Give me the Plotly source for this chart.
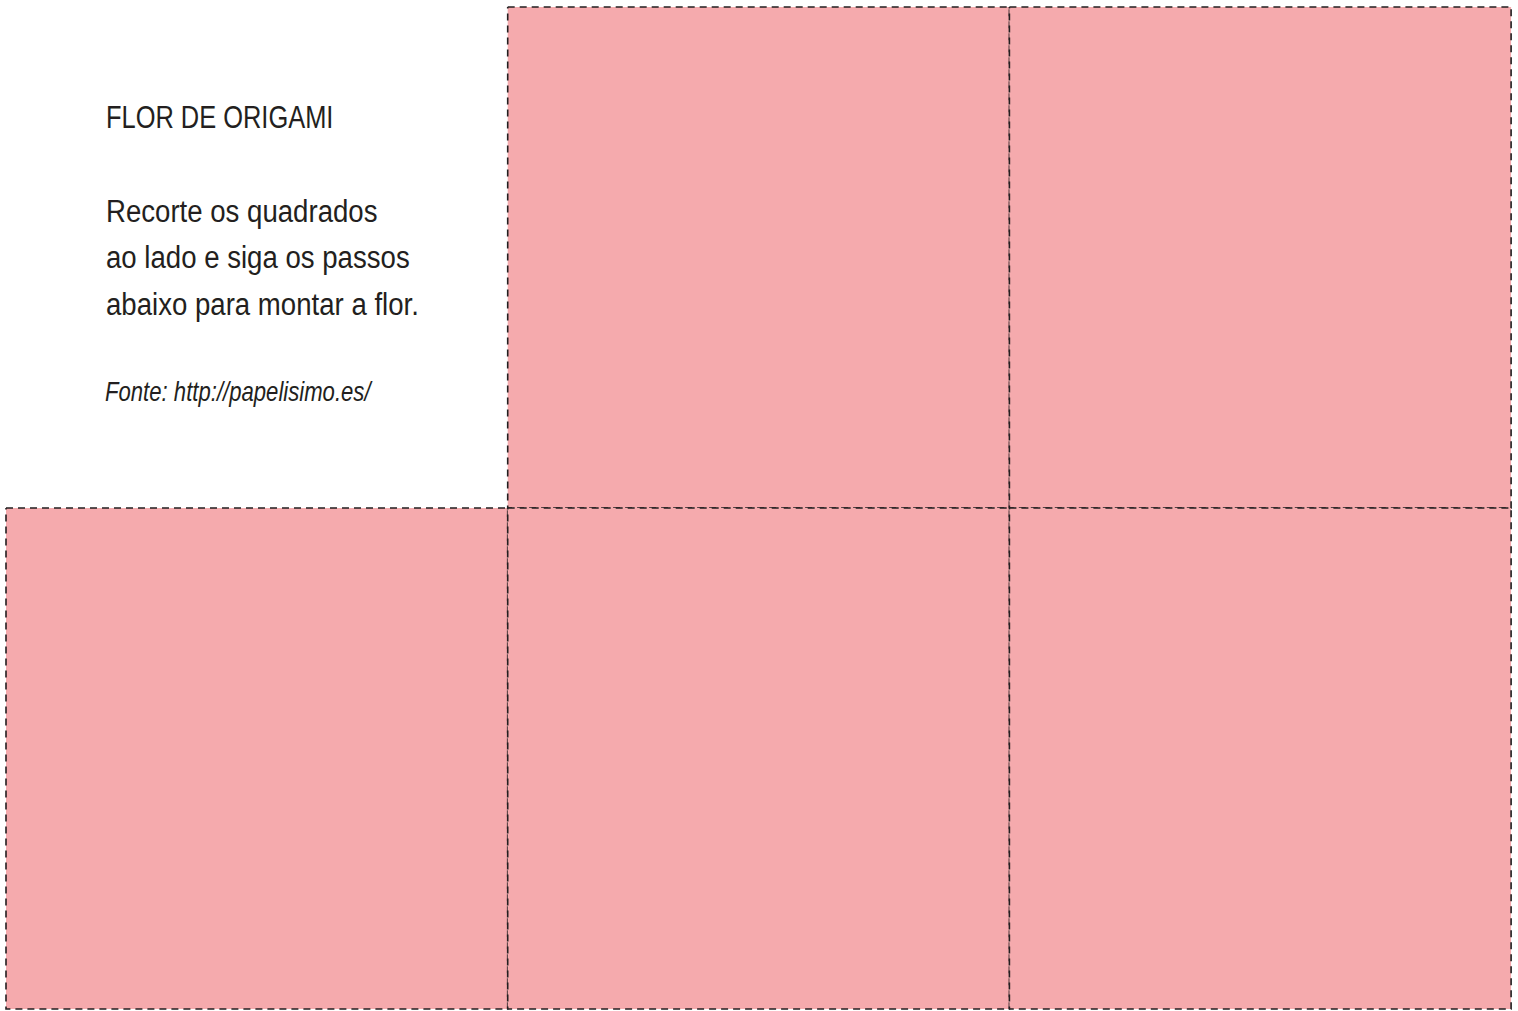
import json
import plotly.graph_objects as go

# ---- data ----
cell_rows = [0, 0, 1, 1, 1]
cell_cols = [1, 2, 0, 1, 2]
title_text = "FLOR DE ORIGAMI"
body_lines = ["Recorte os quadrados", "ao lado e siga os passos", "abaixo para montar a flor."]
source_text = "Fonte: http://papelisimo.es/"

# ---- layout constants ----
W, H = 1518, 1011
ORIGIN_X, ORIGIN_Y = 6, 7
CELL_W, CELL_H = 501.7, 501
PINK = "#F5AAAD"
INK = "#231F20"
FONT = "Liberation Sans, Arial, sans-serif"
TITLE_CONDENSE, BODY_CONDENSE, SOURCE_CONDENSE = 0.82, 0.89, 0.79

fig = go.Figure()
for r, c in zip(cell_rows, cell_cols):
    x0 = ORIGIN_X + c * CELL_W
    y0 = ORIGIN_Y + r * CELL_H
    x1, y1 = x0 + CELL_W, y0 + CELL_H
    fig.add_trace(go.Scatter(
        x=[x0, x1, x1, x0, x0], y=[y0, y0, y1, y1, y0],
        mode="lines", fill="toself", fillcolor=PINK,
        line=dict(color=INK, width=1.6, dash="7px,5px"),
        hoverinfo="skip", showlegend=False,
    ))

TEXT_X = 104
factors = []
fig.add_annotation(x=TEXT_X, y=117, text=title_text, xanchor="left", yanchor="middle",
                   showarrow=False, font=dict(family=FONT, size=31, color=INK))
factors.append(TITLE_CONDENSE)
for i, line in enumerate(body_lines):
    fig.add_annotation(x=TEXT_X, y=211 + i * 46.5, text=line, xanchor="left", yanchor="middle",
                       showarrow=False, font=dict(family=FONT, size=31, color=INK))
    factors.append(BODY_CONDENSE)
fig.add_annotation(x=TEXT_X - 1, y=391, text="<i>" + source_text + "</i>", xanchor="left",
                   yanchor="middle", showarrow=False, font=dict(family=FONT, size=28, color=INK))
factors.append(SOURCE_CONDENSE)

fig.update_layout(
    width=W, height=H, margin=dict(l=0, r=0, t=0, b=0),
    paper_bgcolor="white", plot_bgcolor="white",
    xaxis=dict(range=[0, W], visible=False, fixedrange=True),
    yaxis=dict(range=[H, 0], visible=False, fixedrange=True),
)

post = """
document.body.style.margin = '0';
document.body.style.overflow = 'hidden';
var factors = %s;
document.querySelectorAll('g.annotation').forEach(function (g) {
  var idx = parseInt(g.getAttribute('data-index'));
  var f = factors[idx] || 1;
  var t = g.querySelector('text.annotation-text');
  if (!t) return;
  var left = t.getBBox().x;
  var w = t.getComputedTextLength();
  t.setAttribute('textLength', (w * f).toFixed(2));
  t.setAttribute('lengthAdjust', 'spacingAndGlyphs');
  var dx = left - t.getBBox().x;
  t.setAttribute('transform', 'translate(' + dx.toFixed(2) + ',0)');
});
""" % json.dumps(factors)
fig.write_html("out.html", post_script=post, config={"displayModeBar": False, "staticPlot": True})
